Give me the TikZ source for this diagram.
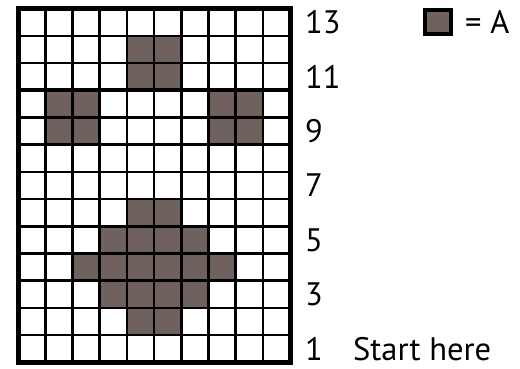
\documentclass[tikz,border=0pt]{standalone}
\usepackage{fontspec}
\setmainfont{PT Sans}
\definecolor{cellfill}{HTML}{6F625E}
\begin{document}
\begin{tikzpicture}[x=1pt,y=1pt,
  lbl/.style={anchor=west,inner sep=0pt,font=\fontsize{32.5}{40}\selectfont},
  cellline/.style={line width=2.6pt,line cap=rect},
  filled/.style={fill=cellfill}]
\useasboundingbox[fill=white] (0,0) rectangle (520,368);
\begin{scope}[shift={(18,5.7)},x=27.2pt,y=27.2pt]
  \foreach \c/\r in {5/12,6/12,5/11,6/11,2/10,3/10,8/10,9/10,2/9,3/9,8/9,9/9,
                     5/6,6/6,4/5,5/5,6/5,7/5,3/4,4/4,5/4,6/4,7/4,8/4,4/3,5/3,6/3,7/3,5/2,6/2}
    \fill[filled] (\c-1,\r-1) rectangle (\c,\r);
  \foreach \i in {1,...,9} \draw[cellline] (\i,0) -- (\i,13);
  \foreach \j in {1,...,12} \draw[cellline] (0,\j) -- (10,\j);
  \draw[line width=4.2pt] (0,10) -- (10,10);
  \draw[line width=5pt] (0,0) rectangle (10,13);
\end{scope}
\foreach \r in {1,3,...,13}
  \node[lbl] (n\r) at (305,{5.7+27.2*(\r-0.5)}) {\r};
\node[lbl] (start) at (353,{5.7+27.2*0.5}) {Start here};
\draw[filled,line width=4pt] (425,334) rectangle (451,358);
\node[lbl] (key) at (465,346) {= A};
\end{tikzpicture}
\end{document}
